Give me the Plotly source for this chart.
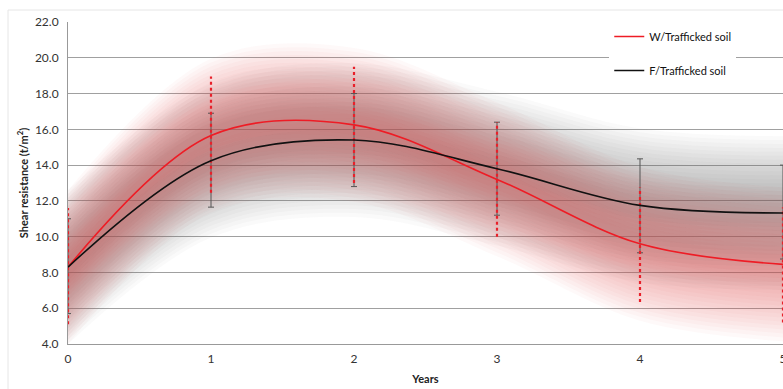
import plotly.graph_objects as go

years = [0, 1, 2, 3, 4, 5]
x_ticks = [0, 1, 2, 3, 4, 5]
y_ticks = [4, 6, 8, 10, 12, 14, 16, 18, 20, 22]

w_name = "W/Trafficked soil"
w_mean = [8.3, 15.65, 16.25, 13.2, 9.6, 8.45]
w_hi = [11.6, 18.95, 19.5, 16.4, 12.75, 11.65]
w_lo = [5.1, 12.45, 13.0, 10.0, 6.35, 5.2]

f_name = "F/Trafficked soil"
f_mean = [8.3, 14.25, 15.4, 13.8, 11.75, 11.32]
f_hi = [11.0, 16.9, 18.0, 16.4, 14.35, 14.0]
f_lo = [5.7, 11.65, 12.8, 11.2, 9.1, 8.75]

FONT = "Lato"
fig = go.Figure()

# soft glow bands around each series
n_layers = 18
glow_widths = [4.3 - i * 0.22 for i in range(n_layers)]

def add_glow(means, rgb, alpha):
    for wdt in glow_widths:
        fig.add_trace(go.Scatter(x=years, y=[m - wdt for m in means], mode="lines",
                                 line=dict(width=0, shape="spline", smoothing=1.0),
                                 showlegend=False, hoverinfo="skip"))
        fig.add_trace(go.Scatter(x=years, y=[m + wdt for m in means], mode="lines",
                                 line=dict(width=0, shape="spline", smoothing=1.0),
                                 fill="tonexty", fillcolor=f"rgba({rgb},{alpha})",
                                 showlegend=False, hoverinfo="skip"))

add_glow(f_mean, "80,80,80", 0.030)
add_glow(w_mean, "228,75,90", 0.036)

# black error bars (solid with caps)
fig.add_trace(go.Scatter(
    x=years, y=f_mean, mode="markers", marker=dict(size=0.1, color="rgba(0,0,0,0)"),
    error_y=dict(type="data", symmetric=False,
                 array=[h - m for h, m in zip(f_hi, f_mean)],
                 arrayminus=[m - l for m, l in zip(f_mean, f_lo)],
                 color="#555555", thickness=1, width=3),
    showlegend=False, hoverinfo="skip"))

# red dotted error bars
ex, ey = [], []
for x, lo, hi in zip(years, w_lo, w_hi):
    ex += [x, x, None]
    ey += [lo, hi, None]
fig.add_trace(go.Scatter(x=ex, y=ey, mode="lines",
                         line=dict(color="#e8202a", width=2.2, dash="dot"),
                         showlegend=False, hoverinfo="skip"))

# main lines
fig.add_trace(go.Scatter(x=years, y=w_mean, mode="lines", name=w_name,
                         line=dict(color="#ee1c25", width=1.6, shape="spline", smoothing=1.0),
                         legendgroup="w"))
fig.add_trace(go.Scatter(x=years, y=f_mean, mode="lines", name=f_name,
                         line=dict(color="#111111", width=1.6, shape="spline", smoothing=1.0),
                         legendgroup="f"))

fig.update_layout(
    width=783, height=389,
    margin=dict(l=68, r=0, t=22, b=45),
    paper_bgcolor="white", plot_bgcolor="white",
    font=dict(family=FONT, size=11, color="#333333"),
    legend=dict(x=0.757, y=1.0, xanchor="left", yanchor="top",
                bgcolor="white", borderwidth=0, tracegroupgap=15,
                entrywidth=112,
                font=dict(family=FONT, size=11, color="#111111")),
    xaxis=dict(range=[0, 5], tickvals=x_ticks, showgrid=False, automargin=False,
               showline=True, linecolor="#999999", linewidth=1,
               ticks="", tickfont=dict(size=12, color="#333333"),
               ticklabelstandoff=4, ticklabeloverflow="allow",
               title=dict(text="<b>Years</b>", font=dict(size=11, color="#222222"), standoff=9),
               zeroline=False),
    yaxis=dict(range=[4, 22], tickvals=y_ticks, tickformat=".1f", automargin=False,
               showgrid=True, gridcolor="#a0a0a0", gridwidth=1,
               showline=True, linecolor="#999999", linewidth=1,
               ticks="", tickfont=dict(size=12, color="#333333"),
               ticklabelstandoff=6,
               title=dict(text="<b>Shear resistance (t/m<sup>2</sup>)</b>",
                          font=dict(size=11, color="#222222"), standoff=4),
               zeroline=False),
)

fig.add_shape(type="rect", xref="paper", yref="paper",
              x0=(8 - 68) / 715, x1=1.2, y0=-0.3, y1=(344 - 10) / 322,
              line=dict(color="#e6e6e6", width=1), fillcolor="rgba(0,0,0,0)", layer="below")

fig.write_html("out.html", config={"displayModeBar": False},
               post_script="document.body.style.margin='0';document.body.style.overflow='hidden';")
